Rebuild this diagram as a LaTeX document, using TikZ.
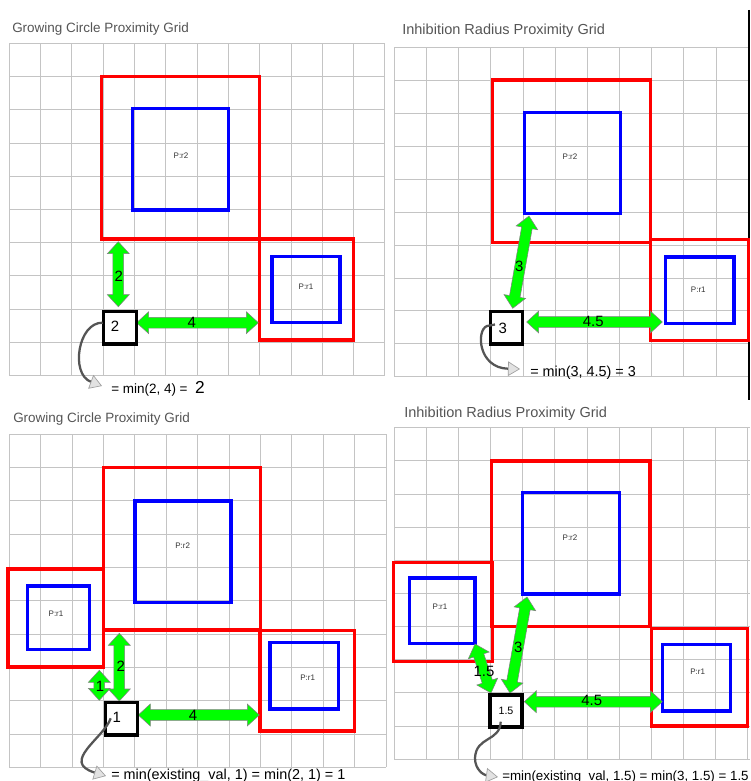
\documentclass[tikz,border=0pt]{standalone}
\usepackage{fontspec}
\setmainfont{Liberation Sans}
\usetikzlibrary{calc,arrows.meta}
\definecolor{gridgray}{HTML}{C4C4C4}
\definecolor{titlegray}{HTML}{555555}
\definecolor{arrgreen}{HTML}{00FF00}
\definecolor{curvegray}{HTML}{555555}
\definecolor{headgray}{HTML}{E2E2E2}

\tikzset{
 gridline/.style={draw=gridgray, line width=0.75pt},
 plainbox/.style={draw, inner sep=0pt, outer sep=0pt},
 redbox/.style={plainbox, draw=red, line width=2.4pt},
 bluebox/.style={plainbox, draw=blue, line width=2.3pt},
 cellbox/.style={plainbox, draw=black, fill=white, line width=2.3pt},
 garrowstyle/.style={fill=arrgreen, draw=gray, line width=0.4pt},
 numlabel/.style={font=\fontsize{11.2}{12}\selectfont, inner sep=0pt},
 plabel/.style={font=\fontsize{6}{7}\selectfont, inner sep=0pt, text=black!80},
 ptitle/.style={text=titlegray, anchor=base west, inner sep=0pt},
 ftext/.style={anchor=base west, inner sep=0pt},
 curvearrow/.style={draw=curvegray, line width=1.7pt,
   -{Triangle[width=11pt,length=9pt,fill=headgray,color=gray!75,line width=0.5pt]}},
}

% box node from corner pixel coordinates
\newcommand\rbox[6]{\node[#2, minimum width={(#5-#3)*0.75pt}, minimum height={(#6-#4)*0.75pt}] (#1) at ({(#3+#5)/2},{(#4+#6)/2}) {};}

% grid: x0, dx, nx, xend, y0, dy, ny
\newcommand\gridpanel[7]{%
 \foreach \i in {0,...,#3} \draw[gridline] ({#1+\i*#2},#5) -- ({#1+\i*#2},{#5+#7*#6});
 \foreach \j in {0,...,#7} \draw[gridline] (#1,{#5+\j*#6}) -- (#4,{#5+\j*#6});
}

% green double block arrow between two named coordinates
\newcommand\garrow[3]{%
 \coordinate (#1-a) at ($(#2)!9pt!(#3)$);
 \coordinate (#1-b) at ($(#3)!9pt!(#2)$);
 \draw[garrowstyle] (#2) -- ($(#1-a)!8.2pt!90:(#3)$) -- ($(#1-a)!4pt!90:(#3)$)
   -- ($(#1-b)!4pt!-90:(#2)$) -- ($(#1-b)!8.2pt!-90:(#2)$) -- (#3)
   -- ($(#1-b)!8.2pt!90:(#2)$) -- ($(#1-b)!4pt!90:(#2)$)
   -- ($(#1-a)!4pt!-90:(#3)$) -- ($(#1-a)!8.2pt!-90:(#3)$) -- cycle;}

\begin{document}
\begin{tikzpicture}[x=0.75pt,y=-0.75pt]
\useasboundingbox (0,0) rectangle (750,781);
\fill[white] (0,0) rectangle (750,781);

% ---------------- grids ----------------
\gridpanel{9.3}{31.3}{12}{385}{43.3}{33.24}{10}
\gridpanel{394.3}{32.18}{11}{750}{47.7}{32.9}{10}
\gridpanel{9.3}{31.4}{12}{386}{434.3}{33.3}{10}
\gridpanel{394.3}{32.13}{11}{750}{427.7}{33.16}{10}

\draw[line width=1.1pt] (749,10) -- (749,400);

% ---------------- titles ----------------
\node[ptitle, font=\fontsize{10.1}{12}\selectfont] (t1) at (12,32.7) {Growing Circle Proximity Grid};
\node[ptitle, font=\fontsize{10.9}{12}\selectfont] (t2) at (402,34.3) {Inhibition Radius Proximity Grid};
\node[ptitle, font=\fontsize{10.1}{12}\selectfont] (t3) at (13,422.7) {Growing Circle Proximity Grid};
\node[ptitle, font=\fontsize{10.9}{12}\selectfont] (t4) at (404,417.7) {Inhibition Radius Proximity Grid};

% ================= panel 1 =================
\rbox{p1r2red}{redbox}{101.7}{76.7}{259.3}{239}
\rbox{p1r1red}{redbox}{259.3}{239}{353.3}{340}
\rbox{p1r2}{bluebox}{132.7}{108.3}{228.7}{210}
\rbox{p1r1}{bluebox}{272}{256.7}{340}{322.7}
\node[plabel] (p1l2) at (181,155.5) {P:r2};
\node[plabel] (p1l1) at (306,287) {P:r1};
\coordinate (p1v1) at (118.3,241.7);
\coordinate (p1v2) at (118.3,306.7);
\coordinate (p1h1) at (136.7,322.7);
\coordinate (p1h2) at (258.3,322.7);
\garrow{p1av}{p1v1}{p1v2}
\garrow{p1ah}{p1h1}{p1h2}
\rbox{p1c}{cellbox}{103.3}{311.7}{136.3}{344}
\node[numlabel] (p1n2) at (118.7,276) {2};
\node[numlabel] (p1n4) at (191.7,322) {4};
\node[numlabel] (p1cv) at (115,326.5) {2};
\coordinate (p1s) at (102.7,322.7);
\coordinate (p1e) at (102,386);
\draw[curvearrow] (p1s) .. controls (78,322) and (70,374) .. (p1e);
\node[ftext, font=\fontsize{10.1}{12}\selectfont] (p1f) at (111,393) {= min(2, 4) = \ {\fontsize{13}{14}\selectfont 2}};

% ================= panel 2 =================
\rbox{p2r2red}{redbox}{492.3}{80}{650.3}{242.3}
\rbox{p2r1red}{redbox}{650.3}{239.3}{748.3}{340.7}
\rbox{p2r2}{bluebox}{524.3}{112.3}{620.7}{213.3}
\rbox{p2r1}{bluebox}{665.7}{257}{734}{323.3}
\node[plabel] (p2l2) at (570,156.7) {P:r2};
\node[plabel] (p2l1) at (698.3,289.3) {P:r1};
\coordinate (p2d1) at (529,216);
\coordinate (p2d2) at (512.7,308.3);
\coordinate (p2h1) at (526.7,322);
\coordinate (p2h2) at (662.3,322);
\garrow{p2ad}{p2d1}{p2d2}
\garrow{p2ah}{p2h1}{p2h2}
\rbox{p2c}{cellbox}{490.7}{311.7}{522.7}{344}
\node[numlabel] (p2n3) at (519.3,266.7) {3};
\node[numlabel] (p2n45) at (593.3,321) {4.5};
\node[numlabel] (p2cv) at (502.7,328.7) {3};
\coordinate (p2s) at (495,324.5);
\coordinate (p2e) at (520,369);
\draw[curvearrow] (p2s) -- (487,326) .. controls (476,330) and (478,368) .. (p2e);
\node[ftext, font=\fontsize{10.8}{12}\selectfont] (p2f) at (530,376) {= min(3, 4.5) = 3};

% ================= panel 3 =================
\rbox{p3r2red}{redbox}{103.3}{467.3}{260.7}{630}
\rbox{p3r1Lred}{redbox}{8}{569}{103.3}{667}
\rbox{p3r1Rred}{redbox}{260}{630.7}{354.3}{731}
\rbox{p3r2}{bluebox}{135}{501}{231}{602.3}
\rbox{p3r1L}{bluebox}{27.7}{586}{89.3}{649.3}
\rbox{p3r1R}{bluebox}{270}{642.3}{338.7}{709}
\node[plabel] (p3l2) at (182.7,546) {P:r2};
\node[plabel] (p3l1L) at (56,614) {P:r1};
\node[plabel] (p3l1R) at (307.7,677.7) {P:r1};
\coordinate (p3v1) at (119.3,633.3);
\coordinate (p3v2) at (119.3,701);
\coordinate (p3w1) at (99.3,670.3);
\coordinate (p3w2) at (99.3,700.3);
\coordinate (p3h1) at (138.3,715);
\coordinate (p3h2) at (259.3,715);
\garrow{p3av}{p3v1}{p3v2}
\garrow{p3aw}{p3w1}{p3w2}
\garrow{p3ah}{p3h1}{p3h2}
\rbox{p3c}{cellbox}{105.3}{702.3}{137.3}{735}
\node[numlabel] (p3n2) at (120.7,666.7) {2};
\node[numlabel] (p3n1) at (100,686) {1};
\node[numlabel] (p3n4) at (193,715) {4};
\node[numlabel] (p3cv) at (116.7,717.7) {1};
\coordinate (p3s) at (110.7,718.3);
\coordinate (p3e) at (106,776);
\draw[curvearrow] (p3s) .. controls (104,738) and (60,762) .. (p3e);
\node[ftext, font=\fontsize{10.8}{12}\selectfont] (p3f) at (111,779) {= min(existing\_val, 1) = min(2, 1) = 1};

% ================= panel 4 =================
\rbox{p4r2red}{redbox}{491.7}{461}{650}{626.7}
\rbox{p4r1Lred}{redbox}{393.3}{562.3}{492.3}{661.7}
\rbox{p4r1Rred}{redbox}{651.7}{628.3}{747.7}{726}
\rbox{p4r2}{bluebox}{522.7}{492.3}{619.3}{594}
\rbox{p4r1L}{bluebox}{409.3}{578}{475}{643.7}
\rbox{p4r1R}{bluebox}{662.3}{644.3}{730.7}{711}
\node[plabel] (p4l2) at (570,537.7) {P:r2};
\node[plabel] (p4l1L) at (440,606.7) {P:r1};
\node[plabel] (p4l1R) at (697.7,671.7) {P:r1};
\coordinate (p4a1) at (475,644);
\coordinate (p4a2) at (491,693);
\coordinate (p4d1) at (527,597);
\coordinate (p4d2) at (510,693);
\coordinate (p4h1) at (524.3,701.7);
\coordinate (p4h2) at (662.3,701.7);
\garrow{p4aa}{p4a1}{p4a2}
\garrow{p4ad}{p4d1}{p4d2}
\garrow{p4ah}{p4h1}{p4h2}
\rbox{p4c}{cellbox}{490}{695}{522}{727}
\node[numlabel] (p4n15) at (484,671.7) {1.5};
\node[numlabel] (p4n3) at (518.3,647.3) {3};
\node[numlabel] (p4n45) at (591.7,700.7) {4.5};
\node[numlabel, font=\fontsize{8}{9}\selectfont] (p4cv) at (506,711) {1.5};
\coordinate (p4s) at (500.7,721.7);
\coordinate (p4e) at (498,777);
\draw[curvearrow] (p4s) .. controls (500,742) and (476,736) .. (475,758) .. controls (475,770) and (484,775) .. (p4e);
\node[ftext, font=\fontsize{10}{12}\selectfont] (p4f) at (502,780) {=min(existing\_val, 1.5) = min(3, 1.5) = 1.5};
\end{tikzpicture}
\end{document}
